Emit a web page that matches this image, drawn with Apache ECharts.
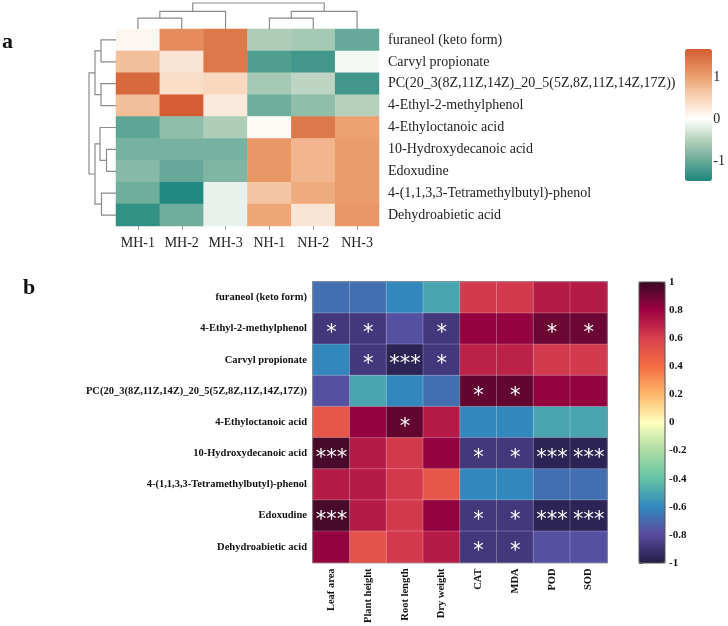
<!DOCTYPE html>
<html>
<head>
<meta charset="utf-8">
<script src="https://cdn.jsdelivr.net/npm/echarts@6/dist/echarts.min.js"></script>
<style>
  html, body { margin: 0; padding: 0; background: #fff; }
  #chart { width: 728px; height: 626px; }
</style>
</head>
<body>
<div id="chart"></div>
<script>
// ---- panel a: z-scored abundance heatmap ----
const aSamples = ['MH-1', 'MH-2', 'MH-3', 'NH-1', 'NH-2', 'NH-3']
const aMetabolites = [
  'furaneol (keto form)',
  'Carvyl propionate',
  'PC(20_3(8Z,11Z,14Z)_20_5(5Z,8Z,11Z,14Z,17Z))',
  '4-Ethyl-2-methylphenol',
  '4-Ethyloctanoic acid',
  '10-Hydroxydecanoic acid',
  'Edoxudine',
  '4-(1,1,3,3-Tetramethylbutyl)-phenol',
  'Dehydroabietic acid'
]
const aZScores = [
  [0.1, 1.2, 1.4, -0.55, -0.6, -1.0],
  [0.7, 0.3, 1.4, -1.15, -1.25, -0.07],
  [1.55, 0.4, 0.45, -0.6, -0.45, -1.25],
  [0.7, 1.65, 0.25, -0.95, -0.75, -0.5],
  [-1.05, -0.75, -0.55, 0.05, 1.4, 1.0],
  [-0.9, -0.9, -0.9, 1.1, 0.8, 1.05],
  [-0.8, -1.0, -0.85, 1.1, 0.8, 1.05],
  [-0.95, -1.45, -0.15, 0.65, 0.9, 1.05],
  [-1.35, -0.95, -0.15, 0.95, 0.3, 1.1]
]
// linkage: [left, right, height]; leaves 0..n-1, new clusters numbered from n
const aColTree = [[0, 1, 2.1], [6, 2, 3.4], [3, 4, 2.1], [8, 5, 3.4], [7, 9, 5.0]]
const aRowTree = [[0, 1, 1.5], [2, 3, 1.5], [9, 10, 2.1], [5, 6, 0.95], [4, 12, 1.6],
  [7, 8, 1.45], [13, 14, 2.1], [11, 15, 2.7]]
const aScaleMin = -1.48
const aScaleMax = 1.67
const aScaleTicks = [-1, 0, 1]

// ---- panel b: correlation heatmap ----
const bMetabolites = [
  'furaneol (keto form)',
  '4-Ethyl-2-methylphenol',
  'Carvyl propionate',
  'PC(20_3(8Z,11Z,14Z)_20_5(5Z,8Z,11Z,14Z,17Z))',
  '4-Ethyloctanoic acid',
  '10-Hydroxydecanoic acid',
  '4-(1,1,3,3-Tetramethylbutyl)-phenol',
  'Edoxudine',
  'Dehydroabietic acid'
]
const bTraits = ['Leaf area', 'Plant height', 'Root length', 'Dry weight', 'CAT', 'MDA', 'POD', 'SOD']
const bCorr = [
  [-0.68, -0.68, -0.6, -0.5, 0.62, 0.62, 0.72, 0.72],
  [-0.88, -0.88, -0.78, -0.88, 0.82, 0.82, 0.9, 0.9],
  [-0.6, -0.88, -0.97, -0.88, 0.7, 0.7, 0.62, 0.62],
  [-0.78, -0.5, -0.6, -0.68, 0.92, 0.92, 0.82, 0.82],
  [0.5, 0.82, 0.92, 0.72, -0.6, -0.6, -0.5, -0.5],
  [0.97, 0.72, 0.62, 0.82, -0.88, -0.88, -0.97, -0.97],
  [0.72, 0.72, 0.62, 0.5, -0.6, -0.6, -0.68, -0.68],
  [0.97, 0.72, 0.62, 0.82, -0.88, -0.88, -0.97, -0.97],
  [0.82, 0.52, 0.62, 0.72, -0.88, -0.88, -0.78, -0.78]
]
const bSig = [
  ['', '', '', '', '', '', '', ''],
  ['*', '*', '', '*', '', '', '*', '*'],
  ['', '*', '***', '*', '', '', '', ''],
  ['', '', '', '', '*', '*', '', ''],
  ['', '', '*', '', '', '', '', ''],
  ['***', '', '', '', '*', '*', '***', '***'],
  ['', '', '', '', '', '', '', ''],
  ['***', '', '', '', '*', '*', '***', '***'],
  ['', '', '', '', '*', '*', '', '']
]

const serif = '"Liberation Serif", "Times New Roman", serif'

const aStops = [
  [-1.48, '#1f877e'], [-1, '#67a998'], [-0.5, '#b5d1bc'], [0, '#ffffff'],
  [0.5, '#f8d4b8'], [1, '#eca170'], [1.67, '#d35c30']
]
const bColors = ['#231d47', '#5a4a9f', '#3288bd', '#64c2a5', '#acdca3', '#ffffbf',
  '#fdb76a', '#f46d43', '#d9404e', '#9e0142', '#3a0a24']

function hexToRgb(h) {
  return [1, 3, 5].map((i) => parseInt(h.slice(i, i + 2), 16))
}

function rampColors(stops, min, max, n) {
  const out = []
  for (let i = 0; i < n; i++) {
    const v = min + (max - min) * i / (n - 1)
    let k = 0
    while (k < stops.length - 2 && v > stops[k + 1][0]) k++
    const [v0, c0] = stops[k]
    const [v1, c1] = stops[k + 1]
    const t = Math.max(0, Math.min(1, (v - v0) / (v1 - v0)))
    const a = hexToRgb(c0)
    const b = hexToRgb(c1)
    const rgb = a.map((x, j) => Math.round(x + (b[j] - x) * t))
    out.push('rgb(' + rgb.join(',') + ')')
  }
  return out
}

function toCells(matrix) {
  const cells = []
  matrix.forEach((row, y) => row.forEach((v, x) => cells.push([x, y, v])))
  return cells
}

function dendroSegments(tree, nLeaves) {
  const pos = []
  const hgt = []
  for (let i = 0; i < nLeaves; i++) { pos.push(i + 0.5); hgt.push(0) }
  return tree.map(([l, r, h]) => {
    const seg = [pos[l], hgt[l], pos[l], h, pos[r], h, pos[r], hgt[r]]
    pos.push((pos[l] + pos[r]) / 2)
    hgt.push(h)
    return seg
  })
}

function dendroRender(swap) {
  return (params, api) => {
    const pts = [0, 1, 2, 3].map((k) => {
      const p = api.value(2 * k)
      const h = api.value(2 * k + 1)
      return api.coord(swap ? [h, p] : [p, h])
    })
    return {
      type: 'polyline',
      shape: { points: pts },
      style: { stroke: '#8c8c8c', lineWidth: 1.2, fill: null }
    }
  }
}

const hidden = { show: false }
const chart = echarts.init(document.getElementById('chart'))

chart.setOption({
  animation: false,
  backgroundColor: '#fff',
  graphic: [
    { type: 'text', left: 2, top: 31, style: { text: 'a', font: 'bold 22px ' + serif, fill: '#111' } },
    { type: 'text', left: 23, top: 277, style: { text: 'b', font: 'bold 22px ' + serif, fill: '#111' } }
  ],
  grid: [
    { left: 116, top: 29, width: 263, height: 197 },
    { left: 116, top: 3, width: 263, height: 26 },
    { left: 89, top: 29, width: 27, height: 197 },
    { left: 685, top: 49, width: 27, height: 132 },
    { left: 313, top: 282, width: 294, height: 281, show: true, borderColor: '#444', borderWidth: 1.5, backgroundColor: 'transparent' },
    { left: 639, top: 282, width: 26, height: 281, show: true, borderColor: '#555', borderWidth: 1, backgroundColor: 'transparent', z: 6 }
  ],
  xAxis: [
    {
      gridIndex: 0, type: 'category', data: aSamples,
      axisLine: hidden,
      axisTick: { show: true, alignWithLabel: true, length: 4, lineStyle: { color: '#999' } },
      axisLabel: { interval: 0, fontFamily: serif, fontSize: 14, color: '#222', margin: 10 }
    },
    { gridIndex: 1, type: 'value', min: 0, max: 6, show: false },
    { gridIndex: 2, type: 'value', min: 0, max: 2.7, inverse: true, show: false },
    { gridIndex: 3, type: 'value', show: false },
    {
      gridIndex: 4, type: 'category', data: bTraits,
      axisLine: hidden, axisTick: hidden,
      axisLabel: { interval: 0, fontFamily: serif, fontSize: 10.5, fontWeight: 'bold', color: '#111', rotate: 90, margin: 6 }
    },
    { gridIndex: 5, type: 'value', show: false }
  ],
  yAxis: [
    {
      gridIndex: 0, type: 'category', data: aMetabolites, inverse: true, position: 'right',
      axisLine: hidden, axisTick: hidden,
      axisLabel: { interval: 0, fontFamily: serif, fontSize: 14, color: '#222', margin: 9 }
    },
    { gridIndex: 1, type: 'value', min: 0, max: 5.0, show: false },
    { gridIndex: 2, type: 'value', min: 0, max: 9, inverse: true, show: false },
    {
      gridIndex: 3, type: 'value', min: aScaleMin, max: aScaleMax, position: 'right',
      axisLine: hidden, splitLine: hidden,
      axisTick: { show: true, inside: true, length: 4, customValues: aScaleTicks, lineStyle: { color: '#fff' } },
      axisLabel: { customValues: aScaleTicks, fontFamily: serif, fontSize: 14, color: '#222', margin: 5 }
    },
    {
      gridIndex: 4, type: 'category', data: bMetabolites, inverse: true,
      axisLine: hidden, axisTick: hidden,
      axisLabel: { interval: 0, fontFamily: serif, fontSize: 10.5, fontWeight: 'bold', color: '#111', margin: 6 }
    },
    {
      gridIndex: 5, type: 'value', min: -1, max: 1, interval: 0.2, position: 'right',
      axisLine: hidden, splitLine: hidden,
      axisTick: { show: true, length: 4, lineStyle: { color: '#777' } },
      axisLabel: { fontFamily: serif, fontSize: 11, fontWeight: 'bold', color: '#111', margin: 4 }
    }
  ],
  visualMap: [
    {
      type: 'continuous', seriesIndex: 0, min: aScaleMin, max: aScaleMax,
      inRange: { color: rampColors(aStops, aScaleMin, aScaleMax, 48) },
      calculable: false, hoverLink: false, padding: 0,
      left: 685, top: 49, itemWidth: 27, itemHeight: 132
    },
    {
      type: 'continuous', seriesIndex: 3, min: -1, max: 1,
      inRange: { color: bColors },
      calculable: false, hoverLink: false, padding: 0,
      left: 639, top: 282, itemWidth: 26, itemHeight: 281
    }
  ],
  series: [
    {
      type: 'heatmap', xAxisIndex: 0, yAxisIndex: 0,
      data: toCells(aZScores)
    },
    {
      type: 'custom', xAxisIndex: 1, yAxisIndex: 1,
      renderItem: dendroRender(false),
      data: dendroSegments(aColTree, aSamples.length)
    },
    {
      type: 'custom', xAxisIndex: 2, yAxisIndex: 2,
      renderItem: dendroRender(true),
      data: dendroSegments(aRowTree, aMetabolites.length)
    },
    {
      type: 'heatmap', xAxisIndex: 4, yAxisIndex: 4,
      data: toCells(bCorr),
      itemStyle: { borderColor: 'rgba(255,255,255,0.3)', borderWidth: 0.8 },
      label: {
        show: true,
        formatter: (p) => bSig[p.data[1]][p.data[0]],
        color: '#fff',
        fontFamily: '"DejaVu Sans", sans-serif',
        fontSize: 21,
        offset: [0, 5]
      }
    }
  ]
})
</script>
</body>
</html>
